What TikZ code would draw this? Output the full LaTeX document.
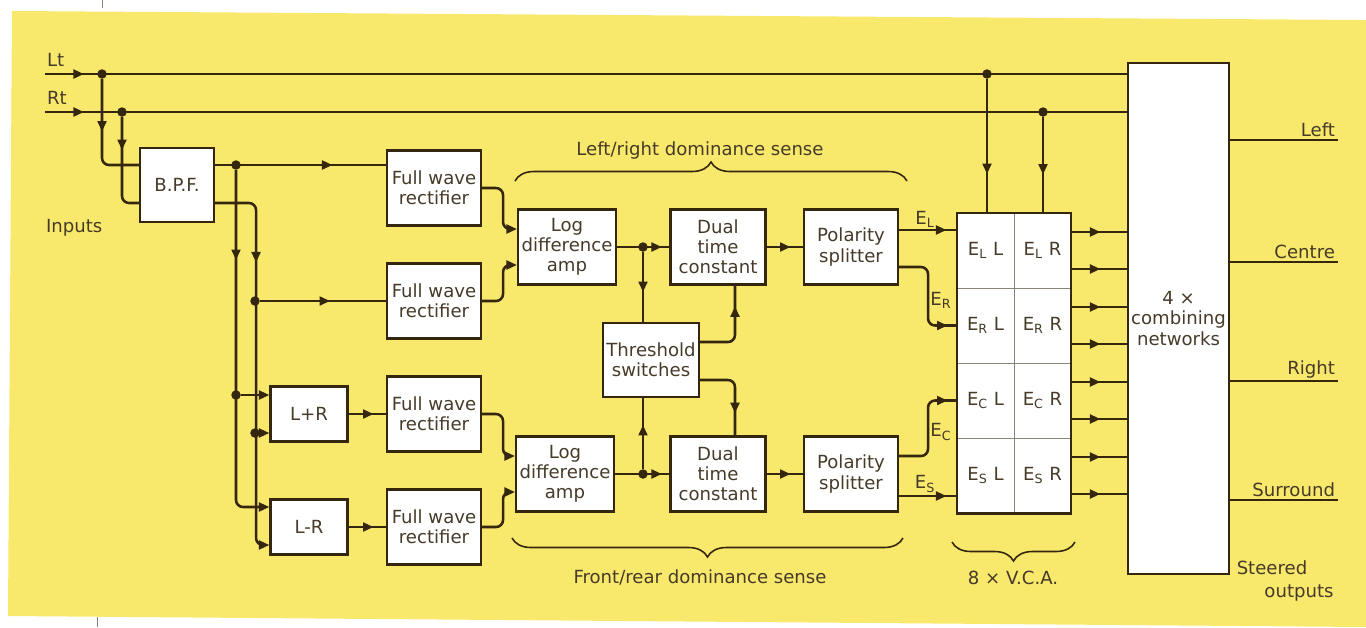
\documentclass[tikz,border=0pt]{standalone}
\usepackage{fontspec}
\setmainfont{DejaVu Sans}
\usepackage{tikz}
\usetikzlibrary{arrows.meta,fit,decorations.markings,decorations.pathreplacing}
\definecolor{paper}{HTML}{F8E86C}
\definecolor{ink}{HTML}{35260E}
\definecolor{letter}{HTML}{463A28}
\definecolor{divider}{HTML}{8A8478}
\newcommand{\diagfont}{\fontsize{10.3}{11.5}\selectfont}
\newcommand{\sig}[1]{E\textsubscript{#1}}
\tikzset{
  block/.style={
    rectangle, draw=ink, fill=white, line width=1.2pt,
    minimum width=1.88cm, minimum height=1.5cm,
    font=\diagfont, text=letter, align=center,
    inner sep=2pt
  },
  cell/.style={rectangle, draw=divider, fill=white, line width=0.5pt,
    minimum width=1.14cm, minimum height=1.5cm,
    font=\diagfont, text=letter},
  sig/.style={color=ink, line width=1.45pt,
    >={Triangle[length=6pt,width=5pt]}},
  tipat/.style={postaction={decorate},
    decoration={markings, mark=at position #1 with {\arrow{>}}}},
  dot/.style={circle, fill=ink, inner sep=0pt, minimum size=0.19cm},
  txt/.style={font=\diagfont, text=letter, inner sep=1pt},
  brc/.style={draw=ink, line width=0.9pt, decorate,
    decoration={brace, amplitude=0.38cm}},
}
\begin{document}
\begin{tikzpicture}[x=0.02cm, y=-0.02cm]
  \useasboundingbox (0,0) rectangle (1366,627);
  \fill[paper] (12,11) -- (1366,20) -- (1366,627) -- (8,616) -- cycle;
  \draw[divider, line width=0.5pt] (102,0) -- (102,8);
  \draw[divider, line width=0.5pt] (97,617) -- (97,627);

  \node[block, minimum width=1.94cm, minimum height=10.22cm] (comb) at (1178.5,318.5) {4 ×\\combining\\networks};
  \node[block, minimum width=1.48cm, minimum height=1.48cm] (bpf) at (177,185) {B.P.F.};
  \node[block] (fwr1) at (434,188) {Full wave\\rectifier};
  \node[block] (fwr2) at (434,301) {Full wave\\rectifier};
  \node[block] (fwr3) at (434,414) {Full wave\\rectifier};
  \node[block] (fwr4) at (434,527) {Full wave\\rectifier};
  \node[block, minimum width=1.54cm, minimum height=1.1cm] (lpr) at (309,414) {L+R};
  \node[block, minimum width=1.54cm, minimum height=1.1cm] (lmr) at (309,527) {L-R};
  \node[block, minimum width=1.9cm] (log1) at (567,247) {Log\\difference\\amp};
  \node[block, minimum width=1.9cm] (log2) at (565,474) {Log\\difference\\amp};
  \node[block, minimum width=1.9cm] (dual1) at (718,247) {Dual\\time\\constant};
  \node[block, minimum width=1.9cm] (dual2) at (718,474) {Dual\\time\\constant};
  \node[block] (pol1) at (851,247) {Polarity\\splitter};
  \node[block] (pol2) at (851,474) {Polarity\\splitter};
  \node[block, minimum width=1.92cm, minimum height=1.48cm] (thr) at (651,360) {Threshold\\switches};

  \foreach \r/\s in {1/L,2/R,3/C,4/S} {
    \foreach \c/\ch in {1/L,2/R} {
      \node[cell] (c\r\c) at ({928.5+57*\c},{175.5+75*\r}) {\sig{\s}\ \ch};
    }
  }
  \node[fit=(c11)(c42), draw=ink, line width=1.2pt, inner sep=0pt] (vca) {};

  \coordinate (ltin) at (45,74);
  \coordinate (rtin) at (45,112);
  \node[txt, anchor=south west] (ltlbl) at ([yshift=0.1cm]ltin) {Lt};
  \node[txt, anchor=south west] (rtlbl) at ([yshift=0.1cm]rtin) {Rt};
  \node[txt, anchor=west] (inlbl) at (44,228) {Inputs};
  \node[dot] (ltsplit) at (102,74) {};
  \node[dot] (rtsplit) at (122,112) {};
  \node[dot] (ltvca) at (987,74) {};
  \node[dot] (rtvca) at (1043,112) {};
  \node[dot] (bpfsplit) at (236,165) {};
  \node[dot] (rbus1) at (255,301) {};
  \node[dot] (lbus1) at (236,395) {};
  \node[dot] (rbus2) at (255,433) {};
  \node[dot] (logsplit1) at (643,247) {};
  \node[dot] (logsplit2) at (643,474) {};

  \draw[sig, tipat=0.78cm] (ltin) -- (ltin -| comb.west);
  \draw[sig, tipat=0.78cm] (rtin) -- (rtin -| comb.west);
  \draw[sig, rounded corners=4pt, tipat=1.05cm] (ltsplit) |- ([yshift=0.4cm]bpf.west);
  \draw[sig, rounded corners=4pt, tipat=0.66cm] (rtsplit) |- ([yshift=-0.36cm]bpf.west);

  \draw[sig, tipat=2.35cm] ([yshift=0.4cm]bpf.east) -- ([yshift=0.4cm]bpf.east -| fwr1.west);
  \draw[sig, ->, rounded corners=4pt, tipat=1.8cm] (bpfsplit) |- ([yshift=0.4cm]lmr.west);
  \draw[sig, ->, rounded corners=4pt, tipat=1.95cm] ([yshift=-0.36cm]bpf.east) -- ++(0.82cm,0) |- ([yshift=-0.36cm]lmr.west);
  \draw[sig, tipat=1.4cm] (rbus1) -- (rbus1 -| fwr2.west);
  \draw[sig, ->] (lbus1) -- (lbus1 -| lpr.west);
  \draw[sig, ->] (rbus2) -- (rbus2 -| lpr.west);
  \draw[sig, tipat=0.5cm] (lpr.east) -- (lpr.east -| fwr3.west);
  \draw[sig, tipat=0.5cm] (lmr.east) -- (lmr.east -| fwr4.west);

  \draw[sig, ->, rounded corners=4pt] (fwr1.east) -- ++(0.42cm,0) |- ([yshift=0.36cm]log1.west);
  \draw[sig, ->, rounded corners=4pt] (fwr2.east) -- ++(0.42cm,0) |- ([yshift=-0.36cm]log1.west);
  \draw[sig, ->, rounded corners=4pt] (fwr3.east) -- ++(0.42cm,0) |- ([yshift=0.36cm]log2.west);
  \draw[sig, ->, rounded corners=4pt] (fwr4.east) -- ++(0.42cm,0) |- ([yshift=-0.36cm]log2.west);

  \draw[sig, tipat=-0.15cm] (log1.east) -- (log1.east -| dual1.west);
  \draw[sig, tipat=-0.15cm] (log2.east) -- (log2.east -| dual2.west);
  \draw[sig, tipat=0.48cm] (dual1.east) -- (dual1.east -| pol1.west);
  \draw[sig, tipat=0.48cm] (dual2.east) -- (dual2.east -| pol2.west);
  \draw[sig, tipat=0.8cm] (logsplit1) -- (logsplit1 |- thr.north);
  \draw[sig, tipat=0.88cm] (logsplit2) -- (logsplit2 |- thr.south);
  \draw[sig, rounded corners=4pt, tipat=1.35cm] ([yshift=0.36cm]thr.east) -| ([xshift=0.34cm]dual1.south);
  \draw[sig, rounded corners=4pt, tipat=1.3cm] ([yshift=-0.4cm]thr.east) -| ([xshift=0.34cm]dual2.north);

  \draw[sig, tipat=-0.18cm] ([yshift=0.34cm]pol1.east) -- ([yshift=0.34cm]pol1.east -| vca.west);
  \draw[sig, rounded corners=4pt, tipat=-0.18cm] ([yshift=-0.4cm]pol1.east) -- ++(0.58cm,0) |- (c21.west);
  \draw[sig, rounded corners=4pt, tipat=-0.18cm] ([yshift=0.36cm]pol2.east) -- ++(0.58cm,0) |- (c31.west);
  \draw[sig, tipat=-0.18cm] ([yshift=-0.44cm]pol2.east) -- ([yshift=-0.44cm]pol2.east -| vca.west);
  \node[txt] (ellbl) at (925,219) {\sig{L}};
  \node[txt] (erlbl) at (941,300) {\sig{R}};
  \node[txt] (eclbl) at (941,432) {\sig{C}};
  \node[txt] (eslbl) at (925,484) {\sig{S}};

  \draw[sig, tipat=1.9cm] (ltvca) -- (ltvca |- vca.north);
  \draw[sig, tipat=1.15cm] (rtvca) -- (rtvca |- vca.north);
  \foreach \r in {1,...,4} {
    \draw[sig, tipat=0.58cm] ([yshift=0.37cm]c\r2.east) -- ([yshift=0.37cm]c\r2.east -| comb.west);
    \draw[sig, tipat=0.58cm] ([yshift=-0.37cm]c\r2.east) -- ([yshift=-0.37cm]c\r2.east -| comb.west);
  }

  \foreach \y/\name/\txt in {140/outleft/Left, 262/outcentre/Centre, 381/outright/Right, 500/outsurr/Surround} {
    \coordinate (\name) at (1338,\y);
    \draw[sig] (\name -| comb.east) -- (\name) node[txt, anchor=south east] (\name-lbl) {\txt};
  }
  \node[txt] (steerlbl) at (1272,568) {Steered};
  \node[txt] (outslbl) at (1299,593) {outputs};

  \draw[brc] (515,181) -- (907,181);
  \draw[brc] (903,538) -- (512,538);
  \draw[brc] (1075,542) -- (952,542);
  \node[txt] (lrlbl) at (700,150) {Left/right dominance sense};
  \node[txt] (frlbl) at (700,577) {Front/rear dominance sense};
  \node[txt] (vcalbl) at (1013,578) {8 × V.C.A.};
\end{tikzpicture}
\end{document}
